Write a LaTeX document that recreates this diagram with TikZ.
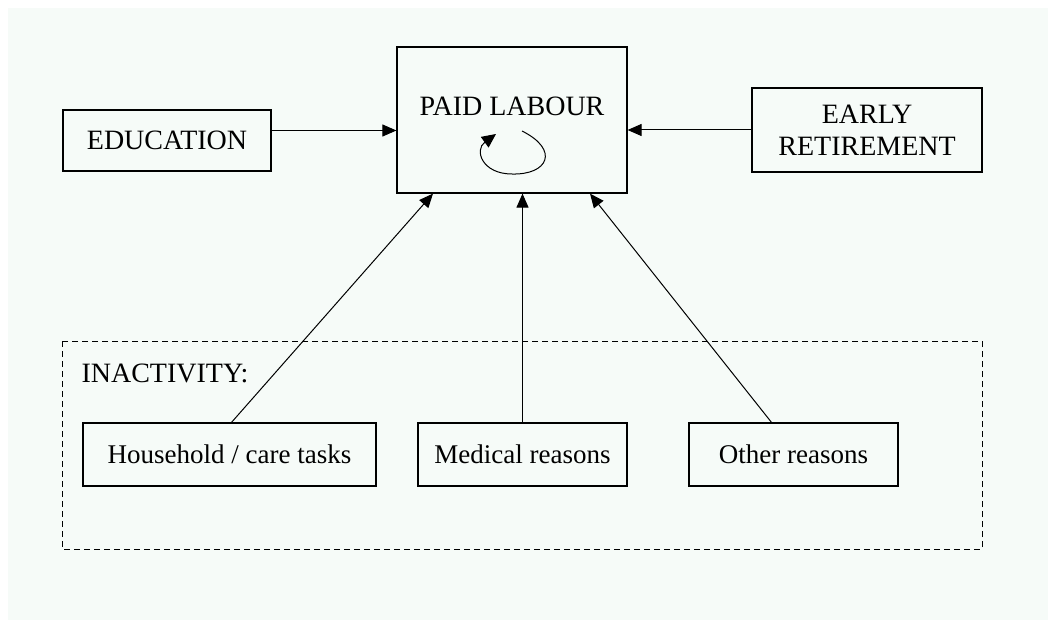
\documentclass[tikz,border=0pt]{standalone}
\usepackage{fontspec}
\setmainfont{Liberation Serif}
\usepackage{xcolor}
\usetikzlibrary{arrows.meta,positioning}
\definecolor{bgpale}{RGB}{246,251,248}

\begin{document}
\begin{tikzpicture}[x=1pt,y=-1pt,
    box/.style={draw, line width=1.2pt, inner sep=0pt, align=center, font=\fontsize{28}{32}\selectfont},
    smallbox/.style={box, minimum height=63, font=\fontsize{27}{30}\selectfont},
    arr/.style={line width=1pt, -{Triangle[length=14pt,width=12pt]}}]
    % Background
    \useasboundingbox (0,0) rectangle (1048,620);
    \fill[bgpale] (8,8) rectangle (1048,620);

    % Top row
    \node[box, minimum width=230, minimum height=146] (paid) at (512,120) {};
    \node[font=\fontsize{28}{32}\selectfont] (paidtxt) at (512,106) {PAID LABOUR};
    \node[box, minimum width=208, minimum height=61] (edu) at (167,140.5) {EDUCATION};
    \node[box, minimum width=230, minimum height=84] (early) at (867,130) {EARLY\\RETIREMENT};

    % Inactivity group
    \draw[dashed, dash pattern=on 6pt off 4pt, line width=1pt] (62,341) rectangle (982,549);
    \node[anchor=west, font=\fontsize{28}{32}\selectfont] (inact) at (78,373) {INACTIVITY:};
    \node[smallbox, minimum width=293] (house) at (229.5,454.5) {Household / care tasks};
    \node[smallbox, minimum width=209] (med) at (522.5,454.5) {Medical reasons};
    \node[smallbox, minimum width=209] (other) at (793.5,454.5) {Other reasons};

    % Arrows into paid labour
    \draw[arr] ([yshift=10]edu.east) -- ([yshift=10]edu.east -| paid.west);
    \draw[arr] (early.west) -- (early.west -| paid.east);
    \draw[arr] ([xshift=2]house.north) -- ([xshift=-79]paid.south);
    \draw[arr] (med.north) -- (med.north |- paid.south);
    \draw[arr] ([xshift=-22]other.north) -- ([xshift=78]paid.south);

    % Loop
    \draw[line width=1pt, -{Triangle[length=14pt,width=13pt]}] (522,131) .. controls (560,150) and (548,175) .. (512,174)
        .. controls (482,174) and (474,150) .. (496,134);
\end{tikzpicture}
\end{document}
